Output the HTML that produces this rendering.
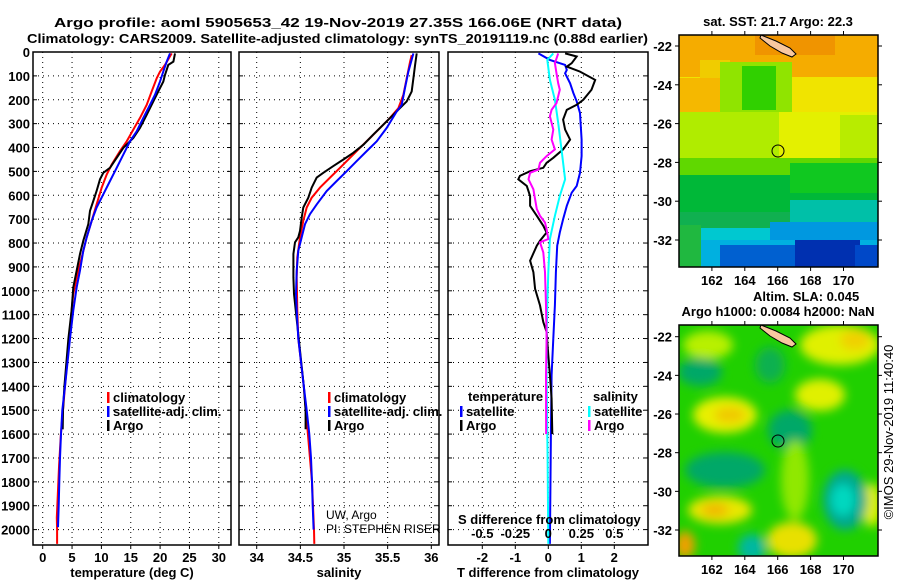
<!DOCTYPE html>
<html><head><meta charset="utf-8">
<style>
html,body{margin:0;padding:0;background:#fff;}
svg text{font-family:"Liberation Sans",Arial,sans-serif;font-weight:bold;font-size:13px;fill:#000;}
</style></head>
<body>
<svg id="fig" width="900" height="580" viewBox="0 0 900 580" xmlns="http://www.w3.org/2000/svg">
<defs>
<filter id="blur" x="-10%" y="-10%" width="120%" height="120%"><feGaussianBlur stdDeviation="5"/></filter>
<clipPath id="clipTop"><rect x="679" y="35" width="199" height="232"/></clipPath>
<clipPath id="clipBot"><rect x="679" y="325" width="199" height="231"/></clipPath>
<clipPath id="clipP1"><rect x="33" y="52" width="198" height="493"/></clipPath>
<clipPath id="clipP2"><rect x="239" y="52" width="200" height="493"/></clipPath>
<clipPath id="clipP3"><rect x="448" y="52" width="200" height="493"/></clipPath>
</defs>
<text x="54" y="27" font-size="16" textLength="568" lengthAdjust="spacingAndGlyphs">Argo profile: aoml 5905653_42 19-Nov-2019 27.35S 166.06E (NRT data)</text>
<text x="27" y="43" font-size="16" textLength="621" lengthAdjust="spacingAndGlyphs">Climatology: CARS2009. Satellite-adjusted climatology: synTS_20191119.nc (0.88d earlier)</text>

<g id="maps">
<text x="778" y="26" text-anchor="middle">sat. SST: 21.7 Argo: 22.3</text>
<g clip-path="url(#clipTop)">
<rect x="679" y="35" width="199" height="232" fill="#f0e400"/>
<rect x="679" y="35" width="199" height="42" fill="#f5ac00"/>
<rect x="755" y="35" width="80" height="20" fill="#f09400"/>
<rect x="679" y="78" width="45" height="34" fill="#f5b800"/>
<rect x="700" y="60" width="30" height="18" fill="#f0cc00"/>
<rect x="720" y="62" width="72" height="70" fill="#90e400"/>
<rect x="742" y="66" width="34" height="44" fill="#30d000"/>
<rect x="679" y="112" width="100" height="52" fill="#b0ec00"/>
<rect x="779" y="112" width="99" height="50" fill="#e4f000"/>
<rect x="840" y="115" width="38" height="50" fill="#b8ec00"/>
<rect x="679" y="158" width="199" height="18" fill="#60d800"/>
<rect x="679" y="175" width="199" height="40" fill="#00b838"/>
<rect x="790" y="163" width="88" height="30" fill="#10c820"/>
<rect x="679" y="212" width="199" height="22" fill="#10b050"/>
<rect x="790" y="200" width="88" height="34" fill="#00c0a8"/>
<rect x="700" y="228" width="178" height="22" fill="#00c8d0"/>
<rect x="770" y="222" width="108" height="28" fill="#0098e0"/>
<rect x="679" y="240" width="199" height="27" fill="#00b0e0"/>
<rect x="679" y="225" width="22" height="42" fill="#20b840"/>
<rect x="720" y="245" width="75" height="22" fill="#0060d0"/>
<rect x="795" y="240" width="65" height="27" fill="#0030b0"/>
<rect x="855" y="245" width="23" height="22" fill="#0048c8"/>
<polygon points="761,35 776,41 790,48 796,54 792,57 782,53 770,46 760,38" fill="#f8c8a0" stroke="#000" stroke-width="1"/>
<circle cx="778" cy="151" r="6" fill="none" stroke="#000" stroke-width="1"/>
</g>
<rect x="679" y="35" width="199" height="232" fill="none" stroke="#000" stroke-width="1.5"/>

<text x="753" y="301">Altim. SLA: 0.045</text>
<text x="778" y="316" text-anchor="middle">Argo h1000: 0.0084 h2000: NaN</text>
<g clip-path="url(#clipBot)">
<rect x="679" y="325" width="199" height="231" fill="#20d000"/>
<g filter="url(#blur)">
<ellipse cx="725" cy="415" rx="32" ry="18" fill="#e8f000"/>
<ellipse cx="730" cy="415" rx="16" ry="8" fill="#f0c800"/>
<ellipse cx="708" cy="345" rx="25" ry="14" fill="#b8f000"/>
<ellipse cx="840" cy="345" rx="40" ry="20" fill="#e0f000"/>
<ellipse cx="855" cy="340" rx="15" ry="10" fill="#f0d000"/>
<ellipse cx="820" cy="395" rx="25" ry="16" fill="#e0f000"/>
<ellipse cx="720" cy="510" rx="32" ry="14" fill="#e8e800"/>
<ellipse cx="715" cy="510" rx="14" ry="7" fill="#f0b800"/>
<ellipse cx="792" cy="540" rx="25" ry="18" fill="#e8e000"/>
<ellipse cx="685" cy="545" rx="10" ry="14" fill="#f0a000"/>
<ellipse cx="872" cy="505" rx="10" ry="22" fill="#e0f000"/>
<ellipse cx="725" cy="470" rx="40" ry="18" fill="#00a868"/>
<ellipse cx="790" cy="430" rx="22" ry="20" fill="#00a868"/>
<ellipse cx="700" cy="372" rx="22" ry="14" fill="#00a868"/>
<ellipse cx="770" cy="365" rx="15" ry="18" fill="#10b050"/>
<ellipse cx="845" cy="500" rx="22" ry="30" fill="#00a890"/>
<ellipse cx="843" cy="500" rx="12" ry="16" fill="#00d8c0"/>
<ellipse cx="752" cy="548" rx="14" ry="14" fill="#00b8a0"/>
<ellipse cx="795" cy="480" rx="14" ry="40" fill="#90e800"/>
</g>
<polygon points="761,325 776,331 790,338 796,344 792,347 782,343 770,336 760,328" fill="#f8c8a0" stroke="#000" stroke-width="1"/>
<circle cx="778" cy="441" r="6" fill="none" stroke="#000" stroke-width="1"/>
</g>
<rect x="679" y="325" width="199" height="231" fill="none" stroke="#000" stroke-width="1.5"/>
<g id="mapTicks"></g>
<text transform="translate(893,432) rotate(-90)" text-anchor="middle" font-size="13" style="font-weight:normal">©IMOS 29-Nov-2019 11:40:40</text>
</g>

<g id="panels"></g>
</svg>
<script>
// ---- data ----
const tArgoDepth=[6,40,54,96,124,165,207,263,318,360,401,443,485,506,533,582,624,665,721,790,846,915,985,1082,1200,1400,1500,1580];
const tArgo=[22.54,22.26,21.40,20.84,20.55,19.70,18.85,17.71,16.58,15.44,13.74,12.6,11.47,10.33,9.76,9.19,8.62,8.06,7.77,6.92,6.35,5.79,5.22,4.93,4.37,3.7,3.45,3.4];
const tClimDepth=[6,54,82,110,165,221,276,325,374,415,471,513,568,638,707,776,860,944,1013,1082,1200,1400,1600,1730,1950,2000,2060];
const tClim=[21.98,20.84,19.98,19.42,18.57,17.71,16.58,15.44,14.31,13.17,11.75,10.9,10.05,9.19,8.34,7.49,6.64,5.79,5.22,4.93,4.54,3.8,3.1,2.8,2.4,2.45,2.45];
const tSatDepth=[6,40,82,124,179,221,276,332,374,429,485,540,596,651,707,776,832,915,985,1082,1200,1400,1500,1600,1700,1800,1900,1990];
const tSat=[21.69,21.12,20.55,19.98,19.13,18.28,17.14,16.01,14.87,13.74,12.6,11.47,10.33,9.19,8.34,7.49,6.92,6.35,5.79,5.22,4.65,3.8,3.34,3.12,2.95,2.83,2.72,2.6];

const sArgoDepth=[6,54,110,165,207,235,263,304,346,388,422,450,478,506,526,568,610,651,693,749,776,797,846,943,1013,1400,1500,1580];
const sArgo=[35.833,35.814,35.795,35.776,35.718,35.642,35.565,35.451,35.336,35.222,35.107,34.993,34.878,34.763,34.687,34.630,34.591,34.534,34.515,34.496,34.477,34.439,34.420,34.420,34.427,34.54,34.56,34.56];
const sClimDepth=[13,40,110,179,235,276,318,360,401,443,485,526,568,610,651,707,776,860,943,1082,1200,1400,1800,2000,2060];
const sClim=[35.776,35.757,35.718,35.680,35.623,35.527,35.413,35.298,35.183,35.069,34.954,34.840,34.725,34.630,34.573,34.534,34.496,34.465,34.458,34.465,34.477,34.54,34.634,34.656,34.66];
const sSatDepth=[6,82,151,221,249,318,374,415,457,499,540,582,638,679,721,776,832,915,1013,1082,1200,1400,1500,1600,1700,1800,1900,2000];
const sSat=[35.795,35.738,35.699,35.661,35.604,35.489,35.375,35.260,35.145,35.031,34.916,34.802,34.687,34.611,34.553,34.515,34.477,34.458,34.450,34.458,34.477,34.54,34.573,34.603,34.622,34.634,34.641,34.652];

const dtArgoDepth=[6,19,47,61,82,117,158,200,221,242,283,325,367,408,443,464,485,499,519,533,561,603,644,686,728,756,790,811,874,922,992,1061,1131,1172,1269,1353,1450,1600];
const dtArgo=[0.51,0.86,0.71,0.56,0.96,1.42,1.31,1.06,0.86,0.56,0.45,0.51,0.66,0.45,0.15,-0.05,-0.15,-0.55,-0.86,-0.91,-0.65,-0.55,-0.55,-0.35,-0.15,-0.05,-0.25,-0.35,-0.55,-0.45,-0.40,-0.25,-0.15,-0.05,0,0.05,0.1,0.12];
const dtSatDepth=[6,33,54,75,89,131,172,207,256,367,436,506,561,589,644,700,756,811,922,1061,1200,1353,1600,2060];
const dtSat=[-0.30,0.05,0.51,0.56,0.51,0.66,0.76,0.86,0.96,1.01,1.01,0.96,0.86,0.71,0.56,0.45,0.35,0.27,0.23,0.20,0.15,0.10,0.08,0.05];
const dsArgoDepth=[6,47,89,131,158,214,242,269,325,367,408,436,464,492,506,533,575,617,658,686,714,742,783,797,839,922,1061,1200,1353,1600];
const dsArgo=[0.075,0.05,0.0625,0.075,0.0875,0.0625,0.025,0.0125,0.0375,0.025,0.05,-0.0125,-0.0625,-0.075,-0.1375,-0.15,-0.1125,-0.1,-0.0875,-0.0625,-0.025,-0.0125,0,-0.0625,-0.0375,-0.025,-0.0175,-0.0125,-0.0175,-0.017];
const dsSatDepth=[6,33,117,200,297,408,533,603,686,783,922,1061,1200,1353,1700,2060];
const dsSat=[0.0375,-0.0075,0.0125,0.05,0.075,0.1,0.1275,0.0875,0.05,0.0125,0,-0.0075,-0.0125,-0.0125,-0.005,0];

const depthTicks=[0,100,200,300,400,500,600,700,800,900,1000,1100,1200,1300,1400,1500,1600,1700,1800,1900,2000];
const tempTicks=[0,5,10,15,20,25,30];
const salTicks=[34,34.5,35,35.5,36];
const salTickLabels=['34','34.5','35','35.5','36'];
const dtTicks=[-2,-1,0,1,2];
const dsTicks=[-0.5,-0.25,0,0.25,0.5];
const dsTickLabels=['-0.5','-0.25','0','0.25','0.5'];
const lonTicks=[162,164,166,168,170];
const latTicks=[-22,-24,-26,-28,-30,-32];

// ---- scales ----
const yD=d=>52+d*0.2388;
const xT=t=>42.7+t*5.87;
const xS=s=>256.7+(s-34)*87.3;
const xDT=v=>548.3+v*33;
const xDS=v=>548.3+v*132;
const xLon=l=>777.7+(l-166)*16.45;
const yLatTop=l=>46+(-22-l)*19.4;
const yLatBot=l=>336.7+(-22-l)*19.33;

const NS='http://www.w3.org/2000/svg';
const root=document.getElementById('panels');
function mk(tag,attrs,parent){const e=document.createElementNS(NS,tag);for(const k in attrs)e.setAttribute(k,attrs[k]);(parent||root).appendChild(e);return e;}
function txt(x,y,s,anchor,parent,extra){const e=mk('text',Object.assign({x:x,y:y,'text-anchor':anchor||'start'},extra||{}),parent);e.textContent=s;return e;}

function panel(name,x0,x1,xticks,xs,xlabels,title){
  const g=mk('g',{});
  
  
  xticks.forEach((t,i)=>{
    const gl=mk('line',{x1:xs(t),x2:xs(t),y1:52,y2:545,stroke:'#000','stroke-width':1,'stroke-dasharray':'1,4'},g);
    
    
    mk('line',{x1:xs(t),x2:xs(t),y1:545,y2:549,stroke:'#000','stroke-width':1},g);
    const tl=txt(xs(t),562,xlabels[i],'middle',g);
    
    
  });
  depthTicks.forEach(d=>{
    const gl=mk('line',{x1:x0,x2:x1,y1:yD(d),y2:yD(d),stroke:'#000','stroke-width':1,'stroke-dasharray':'1,4'},g);
    
    
    mk('line',{x1:x0,x2:x0+4,y1:yD(d),y2:yD(d),stroke:'#000'},g);
    mk('line',{x1:x1-4,x2:x1,y1:yD(d),y2:yD(d),stroke:'#000'},g);
  });
  const fr=mk('rect',{x:x0,y:52,width:x1-x0,height:493,fill:'none',stroke:'#000','stroke-width':1.5},g);
  
  
  const at=txt((x0+x1)/2,577,title,'middle',g);
  
  
  return g;
}
function line(g,xs,vals,depths,color,name,clip){
  const pts=vals.map((v,i)=>xs(v).toFixed(1)+','+yD(depths[i]).toFixed(1)).join(' ');
  const p=mk('polyline',{points:pts,fill:'none',stroke:color,'stroke-width':2,'clip-path':clip},g);
  
  
}
function legendEntry(g,x,y,color,label){
  const e=mk('g',{},g);
  
  
  mk('rect',{x:x,y:y-10,width:2.5,height:11,fill:color},e);
  txt(x+6,y,label,'start',e);
}

const yAxis=mk('g',{});


depthTicks.forEach(d=>{
  const t=txt(30,yD(d)+5,String(d),'end',yAxis);
  
  
});

const g1=panel('temperature-panel',33,231,tempTicks,xT,tempTicks.map(String),'temperature (deg C)');
line(g1,xT,tClim,tClimDepth,'#ff0000','temp-climatology-line','url(#clipP1)');
line(g1,xT,tArgo,tArgoDepth,'#000000','temp-argo-line','url(#clipP1)');
line(g1,xT,tSat,tSatDepth,'#0000ff','temp-satellite-line','url(#clipP1)');
legendEntry(g1,107,402,'#ff0000','climatology');
legendEntry(g1,107,416,'#0000ff','satellite-adj. clim.');
legendEntry(g1,107,430,'#000000','Argo');

const g2=panel('salinity-panel',239,439,salTicks,xS,salTickLabels,'salinity');
line(g2,xS,sClim,sClimDepth,'#ff0000','sal-climatology-line','url(#clipP2)');
line(g2,xS,sArgo,sArgoDepth,'#000000','sal-argo-line','url(#clipP2)');
line(g2,xS,sSat,sSatDepth,'#0000ff','sal-satellite-line','url(#clipP2)');
legendEntry(g2,328,402,'#ff0000','climatology');
legendEntry(g2,328,416,'#0000ff','satellite-adj. clim.');
legendEntry(g2,328,430,'#000000','Argo');
const pi1=txt(326,519,'UW, Argo','start',g2,{style:'font-weight:normal;font-size:12px'});


const pi2=txt(326,533,'PI: STEPHEN RISER','start',g2,{style:'font-weight:normal;font-size:12px'});



const g3=panel('difference-panel',448,648,dtTicks,xDT,dtTicks.map(String),'T difference from climatology');
line(g3,xDT,dtSat,dtSatDepth,'#0000ff','dt-satellite-line','url(#clipP3)');
line(g3,xDT,dtArgo,dtArgoDepth,'#000000','dt-argo-line','url(#clipP3)');
line(g3,xDS,dsSat,dsSatDepth,'#00ffff','ds-satellite-line','url(#clipP3)');
line(g3,xDS,dsArgo,dsArgoDepth,'#ff00ff','ds-argo-line','url(#clipP3)');
const lt=txt(468,401,'temperature','start',g3);


const ls=txt(593,401,'salinity','start',g3);


legendEntry(g3,460,416,'#0000ff','satellite');
legendEntry(g3,460,430,'#000000','Argo');
legendEntry(g3,588,416,'#00ffff','satellite');
legendEntry(g3,588,430,'#ff00ff','Argo');
const sdt=txt(458,524,'S difference from climatology','start',g3);


dsTicks.forEach((v,i)=>{
  const t=txt(xDS(v),538,dsTickLabels[i],'middle',g3);
  
  
});

const mt=document.getElementById('mapTicks');
function mapAxes(yl,top,bot){
  lonTicks.forEach(l=>{
    const x=xLon(l);
    mk('line',{x1:x,x2:x,y1:top,y2:top-4,stroke:'#000'},mt);
    mk('line',{x1:x,x2:x,y1:bot,y2:bot+4,stroke:'#000'},mt);
    const t=txt(x,bot+18,String(l),'middle',mt);
    
    
  });
  latTicks.forEach(l=>{
    const y=yl(l);
    mk('line',{x1:675,x2:679,y1:y,y2:y,stroke:'#000'},mt);
    mk('line',{x1:878,x2:882,y1:y,y2:y,stroke:'#000'},mt);
    const t=txt(672,y+5,String(l),'end',mt);
    
    
  });
}
mapAxes(yLatTop,35,267);
mapAxes(yLatBot,325,556);
</script>
</body></html>
